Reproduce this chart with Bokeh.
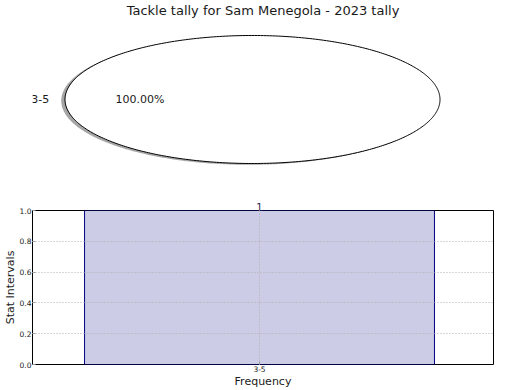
import numpy as np
from bokeh.plotting import figure
from bokeh.layouts import column
from bokeh.models import (Range1d, FixedTicker, ColumnDataSource, LinearAxis, Title,
                          PrintfTickFormatter, LabelSet)
from bokeh.embed import file_html
from bokeh.resources import INLINE
from bokeh.core.properties import value

# ---- data ----
categories = ["3-5"]
counts = [1]
title_text = "Tackle tally for Sam Menegola - 2023 tally"
y_ticks = [0.0, 0.2, 0.4, 0.6, 0.8, 1.0]

FONT = "DejaVu Sans"

# ---- pie (top) ----
total = float(sum(counts))
fracs = [c / total for c in counts]

top = figure(width=520, height=195, output_backend="svg", toolbar_location=None,
             x_range=Range1d(-1.1733, 1.2853), y_range=Range1d(-1.5, 1.281),
             x_axis_location=None, y_axis_location=None,
             min_border_left=25, min_border_right=27, min_border_top=0, min_border_bottom=0)
top.title = Title(text=title_text, align="center", text_font=FONT,
                  text_font_size="13px", text_font_style="normal",
                  text_color="#1a1a1a", standoff=0, offset=0)
top.grid.visible = False
top.outline_line_color = None

lab_x, lab_y, lab_t = [], [], []
pct_x, pct_y, pct_t = [], [], []
start = 0.0
for cat, fr in zip(categories, fracs):
    th = np.linspace(start * 2 * np.pi, (start + fr) * 2 * np.pi, 400)
    xs = list(np.cos(th))
    ys = list(np.sin(th))
    if fr < 1.0:
        xs = [0.0] + xs
        ys = [0.0] + ys
    top.patch([x - 0.02 for x in xs], [y - 0.02 for y in ys],
              fill_color="#4d4d4d", fill_alpha=0.5, line_color=None)
    top.patch(xs, ys, fill_color="white", line_color="black", line_width=1)
    mid = (start + fr / 2) * 2 * np.pi
    lab_x.append(1.1 * np.cos(mid)); lab_y.append(1.1 * np.sin(mid)); lab_t.append(cat)
    pct_x.append(0.6 * np.cos(mid)); pct_y.append(0.6 * np.sin(mid))
    pct_t.append("%.2f%%" % (fr * 100))
    start += fr

lab_src = ColumnDataSource(dict(x=lab_x, y=lab_y, t=lab_t))
pct_src = ColumnDataSource(dict(x=pct_x, y=pct_y, t=pct_t))
top.add_layout(LabelSet(x="x", y="y", text="t", text_align="right", source=lab_src,
                        x_offset=3,
                        text_font=value(FONT), text_font_size="11px",
                        text_baseline="middle", text_color="#1a1a1a"))
top.add_layout(LabelSet(x="x", y="y", text="t", source=pct_src, text_align="center",
                        text_font=value(FONT), text_font_size="11px",
                        text_baseline="middle", text_color="#1a1a1a"))

# ---- bar (bottom) ----
xpos = list(range(len(categories)))
src = ColumnDataSource(dict(x=xpos, top=counts))

bot = figure(width=520, height=195, output_backend="svg", toolbar_location=None,
             x_range=Range1d(-0.519, len(categories) - 1 + 0.535),
             y_range=Range1d(0, 1.0),
             min_border_top=15, min_border_bottom=20, min_border_right=27, min_border_left=25)
bot.vbar(x="x", top="top", bottom=0, width=0.8, source=src,
         fill_color="navy", fill_alpha=0.2, line_color="navy", line_width=1)

bot.xaxis.ticker = FixedTicker(ticks=xpos)
bot.xaxis.major_label_overrides = {i: c for i, c in zip(xpos, categories)}
bot.yaxis.ticker = FixedTicker(ticks=y_ticks)
bot.yaxis.formatter = PrintfTickFormatter(format="%.1f")
bot.xaxis.axis_label = "Frequency"
bot.yaxis.axis_label = "Stat Intervals"

for ax in [bot.xaxis[0], bot.yaxis[0]]:
    ax.axis_line_color = None
    ax.major_tick_in = 3
    ax.major_tick_out = 0
    ax.major_tick_line_color = "#999999"
    ax.minor_tick_line_color = None
    ax.major_label_text_font = FONT
    ax.major_label_text_font_size = "7.5px"
    ax.major_label_text_color = "#1a1a1a"
    ax.major_label_standoff = 1
    ax.axis_label_text_font = FONT
    ax.axis_label_text_font_size = "11px"
    ax.axis_label_text_font_style = "normal"
    ax.axis_label_text_color = "#1a1a1a"
    ax.axis_label_standoff = 0

# bar value labels on an axis above the bars
top_ax = LinearAxis(ticker=FixedTicker(ticks=xpos),
                    major_label_overrides={i: str(c) for i, c in zip(xpos, counts)},
                    axis_line_color=None, major_tick_in=0, major_tick_out=0,
                    minor_tick_line_color=None, major_label_standoff=0,
                    major_label_text_font=FONT, major_label_text_font_size="10px",
                    major_label_text_color="#1a1a4d")
bot.add_layout(top_ax, "above")

bot.grid.grid_line_color = "#b0b0b0"
bot.grid.grid_line_dash = "1 2"
bot.grid.grid_line_width = 1
bot.xgrid.level = "overlay"
bot.ygrid.level = "overlay"
bot.outline_line_color = "black"
bot.outline_line_width = 1

layout = column(top, bot, spacing=0)
open("out.html", "w").write(file_html(layout, INLINE))
